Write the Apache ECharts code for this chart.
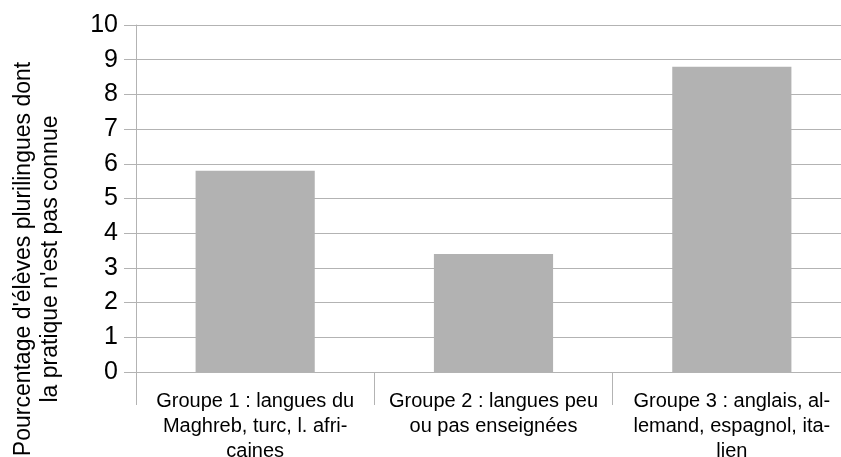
<!DOCTYPE html>
<html>
<head>
<meta charset="utf-8">
<script src="https://cdn.jsdelivr.net/npm/echarts@6/dist/echarts.min.js"></script>
<style>html,body{margin:0;padding:0;background:#fff}#c{width:841px;height:457px}</style>
</head>
<body>
<div id="c"></div>
<script>
var categories = [
  "Groupe 1 : langues du\nMaghreb, turc, l. afri-\ncaines",
  "Groupe 2 : langues peu\nou pas enseignées",
  "Groupe 3 : anglais, al-\nlemand, espagnol, ita-\nlien"
];
var values = [5.8, 3.4, 8.8];
var yTicks = [0, 10, 1]; // min, max, interval
var yAxisTitle = "Pourcentage d'élèves plurilingues dont\nla pratique n'est pas connue";

var chart = echarts.init(document.getElementById('c'), null, {renderer: 'canvas'});
var font = 'Liberation Sans, Arial, sans-serif';
chart.setOption({
  animation: false,
  backgroundColor: '#ffffff',
  grid: {left: 136, top: 25, bottom: 85, right: -10, containLabel: false, outerBoundsMode: 'none'},
  xAxis: {
    type: 'category',
    data: categories,
    boundaryGap: true,
    axisLine: {show: true, lineStyle: {color: '#b3b3b3', width: 1}},
    axisTick: {show: true, length: 33, alignWithLabel: false, interval: 0, lineStyle: {color: '#b3b3b3'}},
    axisLabel: {interval: 0, margin: 17, color: '#000', fontFamily: font, fontSize: 20, lineHeight: 25, align: 'center'},
    splitLine: {show: false}
  },
  yAxis: {
    type: 'value',
    min: yTicks[0], max: yTicks[1], interval: yTicks[2],
    axisLine: {show: true, lineStyle: {color: '#b3b3b3', width: 1}},
    axisTick: {show: true, length: 12, inside: false, lineStyle: {color: '#b3b3b3'}},
    axisLabel: {margin: 18, color: '#000', fontFamily: font, fontSize: 25},
    splitLine: {show: true, lineStyle: {color: '#b3b3b3', width: 1}}
  },
  series: [{
    type: 'bar',
    data: values,
    barWidth: '50%',
    itemStyle: {color: '#b2b2b2'}
  }],
  graphic: [{
    type: 'text',
    x: 37, y: 259,
    rotation: Math.PI / 2,
    style: {
      text: yAxisTitle,
      fill: '#000',
      font: '23px ' + font,
      lineHeight: 27,
      align: 'center',
      verticalAlign: 'middle'
    }
  }]
});
</script>
</body>
</html>
